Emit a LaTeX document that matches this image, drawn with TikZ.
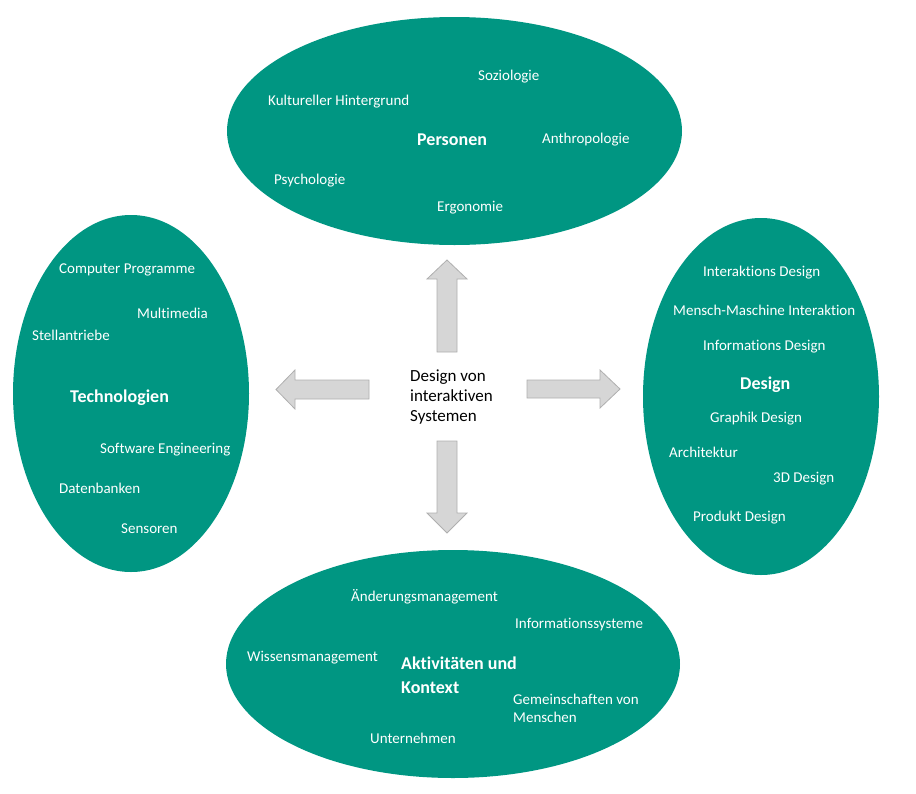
\documentclass[tikz,border=0pt]{standalone}
\usepackage{fontspec}
\setmainfont{Carlito}[Ligatures={NoCommon}]
\usetikzlibrary{shapes.geometric}
\definecolor{teal1}{HTML}{009682}
\definecolor{arrfill}{HTML}{D6D6D6}
\definecolor{arredge}{HTML}{AFAFAF}
\tikzset{
  blob/.style={ellipse, fill=teal1, draw=none, inner sep=0pt},
  lbl/.style={anchor=base west, inner sep=0pt, text=white, font=\fontsize{15}{18}\selectfont},
  ttl/.style={anchor=base west, inner sep=0pt, text=white, font=\fontsize{18}{24}\selectfont\bfseries, align=left},
  blockarrow/.style={fill=arrfill, draw=arredge, line width=0.8pt, line join=miter},
}
\begin{document}
\begin{tikzpicture}[x=1pt,y=-1pt]
\useasboundingbox (0,0) rectangle (916,793);
% ellipses
\node[blob, minimum width=455pt, minimum height=228pt] (pers) at (454.5,131) {};
\node[blob, minimum width=236pt, minimum height=357pt] (tech) at (131,393.5) {};
\node[blob, minimum width=236pt, minimum height=357pt] (des) at (761,396.5) {};
\node[blob, minimum width=454pt, minimum height=228pt] (akt) at (453,664) {};
% Personen
\node[lbl] (soz) at (478,80) {Soziologie};
\node[lbl] (kult) at (268,105) {Kultureller Hintergrund};
\node[ttl] (perst) at (417,145) {Personen};
\node[lbl] (anth) at (542,143) {Anthropologie};
\node[lbl] (psy) at (274,184) {Psychologie};
\node[lbl] (ergo) at (437,211) {Ergonomie};
% Technologien
\node[lbl] (comp) at (59,273) {Computer Programme};
\node[lbl] (mult) at (137,318) {Multimedia};
\node[lbl] (stell) at (32,340) {Stellantriebe};
\node[ttl] (techt) at (70,402) {Technologien};
\node[lbl] (soft) at (100,453) {Software Engineering};
\node[lbl] (daten) at (59,493) {Datenbanken};
\node[lbl] (sens) at (121,533) {Sensoren};
% Design
\node[lbl] (intd) at (703,276) {Interaktions Design};
\node[lbl] (mmi) at (673,315) {Mensch-Maschine Interaktion};
\node[lbl] (infd) at (703,350) {Informations Design};
\node[ttl] (dest) at (740,389) {Design};
\node[lbl] (graph) at (710,422) {Graphik Design};
\node[lbl] (arch) at (669,457) {Architektur};
\node[lbl] (drei) at (773,482) {3D Design};
\node[lbl] (prod) at (693,521) {Produkt Design};
% Aktivitaeten
\node[lbl] (aend) at (351,601) {Änderungsmanagement};
\node[lbl] (infs) at (515,628) {Informationssysteme};
\node[lbl] (wiss) at (247,661) {Wissensmanagement};
\node[ttl] (aktt) at (401,693) {Aktivitäten und\\Kontext};
\node[lbl, align=left] (gem) at (513,722) {Gemeinschaften von\\Menschen};
\node[lbl] (unt) at (370,743) {Unternehmen};
% center
\node[anchor=base west, inner sep=0pt, align=left, font=\fontsize{17}{20}\selectfont] (ctr) at (410,421) {Design von\\interaktiven\\Systemen};
% block arrows
\draw[blockarrow] (437,352) -- (437,279) -- (427,279) -- (447,260) -- (467,279) -- (457,279) -- (457,352) -- cycle;
\draw[blockarrow] (437,441) -- (437,513) -- (427,513) -- (447,533) -- (467,513) -- (457,513) -- (457,441) -- cycle;
\draw[blockarrow] (369,380) -- (295,380) -- (295,370) -- (276,389.5) -- (295,409) -- (295,399) -- (369,399) -- cycle;
\draw[blockarrow] (527,380) -- (600,380) -- (600,370) -- (620,389) -- (600,408) -- (600,398) -- (527,398) -- cycle;
\end{tikzpicture}
\end{document}
